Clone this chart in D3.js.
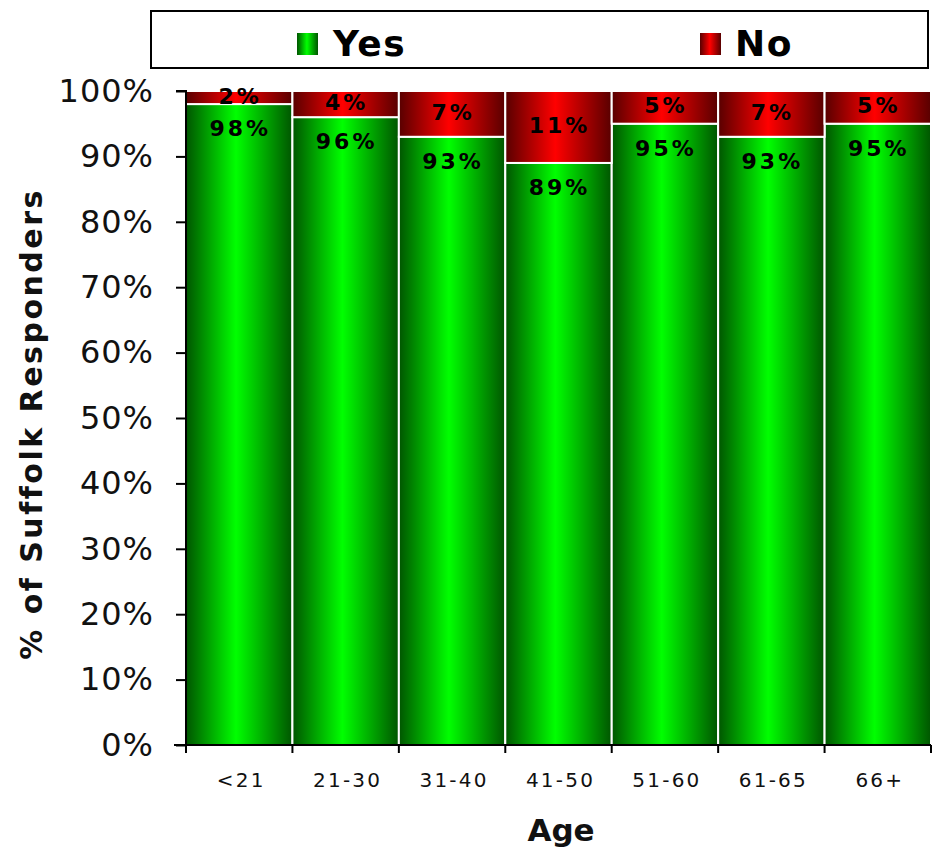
<!DOCTYPE html>
<html>
<head>
<meta charset="utf-8">
<script src="https://cdn.jsdelivr.net/npm/d3@7"></script>
<style>
  html, body { margin: 0; padding: 0; background: #fff; }
  svg { display: block; }
</style>
</head>
<body>
<svg id="chart" width="932" height="851"></svg>
<script>
// Survey answers by age group (percent of responders)
const ageGroups = ["<21", "21-30", "31-40", "41-50", "51-60", "61-65", "66+"];
const yesValues = [98, 96, 93, 89, 95, 93, 95];
const noValues = [2, 4, 7, 11, 5, 7, 5];
const seriesNames = ["Yes", "No"];
const yTicks = [0, 10, 20, 30, 40, 50, 60, 70, 80, 90, 100];

const rows = ageGroups.map((g, i) => ({ group: g, Yes: yesValues[i], No: noValues[i] }));

const svg = d3.select("#chart");
const margin = { left: 186, right: 931, top: 91, bottom: 745 };

const x = d3.scaleBand().domain(ageGroups).range([margin.left, margin.right]).paddingInner(0).paddingOuter(0);
const y = d3.scaleLinear().domain([0, 100]).range([margin.bottom, margin.top]);

// Horizontal gradients: dark edges, bright centre
const defs = svg.append("defs");
function addGradient(id, dark, bright) {
  const g = defs.append("linearGradient").attr("id", id)
    .attr("x1", "0%").attr("x2", "100%").attr("y1", "0%").attr("y2", "0%");
  g.append("stop").attr("offset", "0%").attr("stop-color", dark);
  g.append("stop").attr("offset", "47%").attr("stop-color", bright);
  g.append("stop").attr("offset", "100%").attr("stop-color", dark);
}
addGradient("gradYes", "#005500", "#00ff00");
addGradient("gradNo", "#580000", "#ff0000");
const fills = { Yes: "url(#gradYes)", No: "url(#gradNo)" };

const stacked = d3.stack().keys(seriesNames)(rows);

// Bars
const layers = svg.append("g").selectAll("g")
  .data(stacked).join("g")
  .attr("fill", d => fills[d.key]);

layers.selectAll("rect")
  .data(d => d)
  .join("rect")
  .attr("x", d => x(d.data.group))
  .attr("width", x.bandwidth())
  .attr("y", d => y(d[1]))
  .attr("height", d => y(d[0]) - y(d[1]))
  .attr("stroke", "#fff")
  .attr("stroke-width", 2);

// Value labels
const labelFont = "'DejaVu Sans', Verdana, sans-serif";
svg.append("g").selectAll("text")
  .data(stacked[0]).join("text")
  .attr("x", d => x(d.data.group) + x.bandwidth() / 2 + 1)
  .attr("y", d => y(d[1]) + 26)
  .attr("text-anchor", "middle")
  .attr("dominant-baseline", "middle")
  .attr("font-family", labelFont)
  .attr("font-weight", "bold")
  .attr("font-size", 22)
  .attr("letter-spacing", 3)
  .attr("fill", "#000")
  .text(d => d.data.Yes + "%");

svg.append("g").selectAll("text")
  .data(stacked[1]).join("text")
  .attr("x", d => x(d.data.group) + x.bandwidth() / 2 + 1)
  .attr("y", d => Math.max((y(d[0]) + y(d[1])) / 2, y(100) + 3))
  .attr("text-anchor", "middle")
  .attr("dominant-baseline", "middle")
  .attr("font-family", labelFont)
  .attr("font-weight", "bold")
  .attr("font-size", 22)
  .attr("letter-spacing", 3)
  .attr("fill", "#000")
  .text(d => d.data.No + "%");

// Y axis
const yAxis = svg.append("g")
  .attr("transform", `translate(${margin.left},0)`)
  .call(d3.axisLeft(y).tickValues(yTicks).tickFormat(d => d + "%").tickSize(10).tickPadding(22));
yAxis.select(".domain").attr("stroke", "#000").attr("stroke-width", 2).attr("d", `M-10,${y(100)}H0V${y(0)}`);
yAxis.selectAll(".tick line").attr("stroke", "#000").attr("stroke-width", 2);
yAxis.selectAll(".tick text")
  .attr("font-family", labelFont)
  .attr("font-size", 32)
  .attr("letter-spacing", 1)
  .attr("fill", "#111");

// X axis with ticks at group boundaries
const xAxis = svg.append("g")
  .attr("transform", `translate(0,${margin.bottom})`);
xAxis.append("line")
  .attr("x1", margin.left - 12).attr("x2", margin.right)
  .attr("y1", 0).attr("y2", 0)
  .attr("stroke", "#000").attr("stroke-width", 2);
const boundaries = ageGroups.map(g => x(g)).concat([x(ageGroups[ageGroups.length - 1]) + x.bandwidth()]);
xAxis.selectAll("line.tick")
  .data(boundaries).join("line")
  .attr("class", "tick")
  .attr("x1", d => d).attr("x2", d => d)
  .attr("y1", 0).attr("y2", 8)
  .attr("stroke", "#000").attr("stroke-width", 2);
xAxis.selectAll("text")
  .data(ageGroups).join("text")
  .attr("x", d => x(d) + x.bandwidth() / 2 + 2)
  .attr("y", 42)
  .attr("text-anchor", "middle")
  .attr("font-family", labelFont)
  .attr("font-size", 20)
  .attr("letter-spacing", 2.2)
  .attr("fill", "#111")
  .text(d => d);

// Axis titles
svg.append("text")
  .attr("x", 561).attr("y", 841)
  .attr("text-anchor", "middle")
  .attr("font-family", labelFont)
  .attr("font-weight", "bold")
  .attr("font-size", 31)
  .attr("fill", "#111")
  .text("Age");

svg.append("text")
  .attr("transform", `translate(42,424) rotate(-90)`)
  .attr("text-anchor", "middle")
  .attr("font-family", labelFont)
  .attr("font-weight", "bold")
  .attr("font-size", 30)
  .attr("letter-spacing", 2.5)
  .attr("fill", "#111")
  .text("% of Suffolk Responders");

// Legend
const legend = svg.append("g");
legend.append("rect")
  .attr("x", 151).attr("y", 11).attr("width", 777).attr("height", 57)
  .attr("fill", "#fff").attr("stroke", "#000").attr("stroke-width", 2);
const legendItems = [
  { key: "Yes", mx: 297, tx: 333 },
  { key: "No", mx: 700, tx: 735 }
];
legend.selectAll("rect.sw")
  .data(legendItems).join("rect")
  .attr("class", "sw")
  .attr("x", d => d.mx).attr("y", 33)
  .attr("width", 21).attr("height", 22)
  .attr("fill", d => fills[d.key]);
legend.selectAll("text")
  .data(legendItems).join("text")
  .attr("x", d => d.tx).attr("y", 56)
  .attr("font-family", labelFont)
  .attr("font-weight", "bold")
  .attr("font-size", 36)
  .attr("letter-spacing", 1.5)
  .attr("fill", "#000")
  .text(d => d.key);
</script>
</body>
</html>
